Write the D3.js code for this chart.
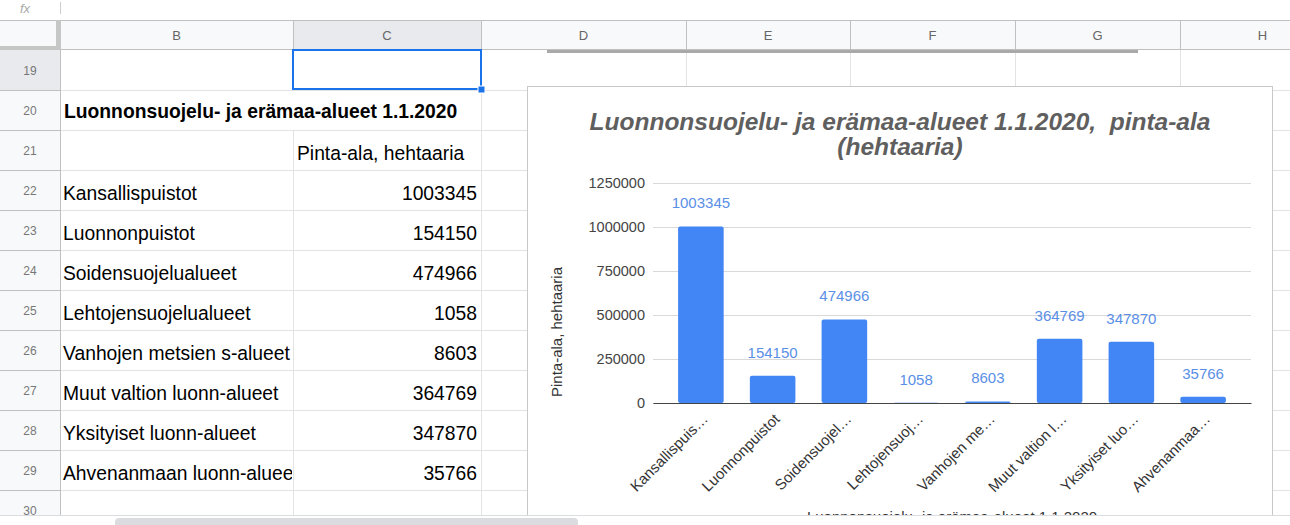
<!DOCTYPE html>
<html>
<head>
<meta charset="utf-8">
<script src="https://cdn.jsdelivr.net/npm/d3@7"></script>
<style>
  body { margin: 0; background: #fff; overflow: hidden; }
  svg text { font-family: Arial, "Liberation Sans", sans-serif; }
</style>
</head>
<body>
<svg id="sheet" width="1290" height="525"></svg>
<script>
// table / chart data
var categories = ["Kansallispuistot", "Luonnonpuistot", "Soidensuojelualueet", "Lehtojensuojelualueet",
  "Vanhojen metsien s-alueet", "Muut valtion luonn-alueet", "Yksityiset luonn-alueet", "Ahvenanmaan luonn-alueet"];
var values = [1003345, 154150, 474966, 1058, 8603, 364769, 347870, 35766];
var axisLabels = ["Kansallispuis…", "Luonnonpuistot", "Soidensuojel…", "Lehtojensuoj…",
  "Vanhojen me…", "Muut valtion l…", "Yksityiset luo…", "Ahvenanmaa…"];
var yTicks = [0, 250000, 500000, 750000, 1000000, 1250000];
var columnLetters = ["B", "C", "D", "E", "F", "G", "H"];
var rowNumbers = [19, 20, 21, 22, 23, 24, 25, 26, 27, 28, 29, 30];
var tableTitle = "Luonnonsuojelu- ja erämaa-alueet 1.1.2020";
var valueHeader = "Pinta-ala, hehtaaria";
var chartTitle = ["Luonnonsuojelu- ja erämaa-alueet 1.1.2020,  pinta-ala", "(hehtaaria)"];

// sheet layout
var colEdges = [60, 293, 481, 686, 850, 1015, 1180, 1345];
var headTop = 20, headBottom = 50, rowH = 40, sheetBottom = 515;
var rowTop = function(i) { return headBottom + i * rowH; };

var svg = d3.select("#sheet");

svg.append("defs").append("clipPath").attr("id", "sheetClip")
  .append("rect").attr("x", 0).attr("y", headTop).attr("width", 1290).attr("height", sheetBottom - headTop);
svg.select("defs").append("clipPath").attr("id", "colB")
  .append("rect").attr("x", 60).attr("y", 0).attr("width", 232).attr("height", 525);

// formula bar remnant
svg.append("text").attr("x", 20).attr("y", 13).attr("font-size", "13px").attr("font-style", "italic")
  .attr("fill", "#aaa").text("fx");
svg.append("line").attr("x1", 60.5).attr("x2", 60.5).attr("y1", 2).attr("y2", 14).attr("stroke", "#ccc");

var grid = svg.append("g").attr("clip-path", "url(#sheetClip)");

// header backgrounds
grid.append("rect").attr("x", 0).attr("y", headTop).attr("width", 1290).attr("height", headBottom - headTop).attr("fill", "#f8f9fa");
grid.append("rect").attr("x", colEdges[1]).attr("y", headTop).attr("width", colEdges[2] - colEdges[1])
  .attr("height", headBottom - headTop).attr("fill", "#e8eaed");
grid.append("rect").attr("x", 0).attr("y", headBottom).attr("width", 60).attr("height", sheetBottom - headBottom).attr("fill", "#f8f9fa");
grid.append("rect").attr("x", 0).attr("y", rowTop(0)).attr("width", 60).attr("height", rowH).attr("fill", "#e8eaed");

// cell gridlines
rowNumbers.forEach(function(r, i) {
  grid.append("line").attr("x1", 60).attr("x2", 1290).attr("y1", rowTop(i + 1) + 0.5).attr("y2", rowTop(i + 1) + 0.5)
    .attr("stroke", "#e2e3e3");
  grid.append("line").attr("x1", 0).attr("x2", 60).attr("y1", rowTop(i + 1) + 0.5).attr("y2", rowTop(i + 1) + 0.5)
    .attr("stroke", "#c0c0c0");
});
colEdges.slice(1).forEach(function(x, j) {
  // row 20 title overflows across B/C border
  if (j === 0) {
    grid.append("line").attr("x1", x + 0.5).attr("x2", x + 0.5).attr("y1", headBottom).attr("y2", rowTop(1)).attr("stroke", "#e2e3e3");
    grid.append("line").attr("x1", x + 0.5).attr("x2", x + 0.5).attr("y1", rowTop(2)).attr("y2", sheetBottom).attr("stroke", "#e2e3e3");
  } else {
    grid.append("line").attr("x1", x + 0.5).attr("x2", x + 0.5).attr("y1", headBottom).attr("y2", sheetBottom).attr("stroke", "#e2e3e3");
  }
  grid.append("line").attr("x1", x + 0.5).attr("x2", x + 0.5).attr("y1", headTop).attr("y2", headBottom).attr("stroke", "#c0c0c0");
});
grid.append("line").attr("x1", 0).attr("x2", 1290).attr("y1", headTop + 0.5).attr("y2", headTop + 0.5).attr("stroke", "#c0c0c0");
grid.append("line").attr("x1", 0).attr("x2", 1290).attr("y1", headBottom - 0.5).attr("y2", headBottom - 0.5).attr("stroke", "#c0c0c0");
grid.append("line").attr("x1", 60.5).attr("x2", 60.5).attr("y1", headTop).attr("y2", sheetBottom).attr("stroke", "#c0c0c0");
// freeze bars in the corner
grid.append("rect").attr("x", 56).attr("y", headTop).attr("width", 5).attr("height", headBottom - headTop).attr("fill", "#c4c7c5");
grid.append("rect").attr("x", 0).attr("y", headBottom - 4).attr("width", 60).attr("height", 4).attr("fill", "#c4c7c5");

// header labels
columnLetters.forEach(function(c, j) {
  grid.append("text").attr("x", (colEdges[j] + colEdges[j + 1]) / 2).attr("y", 40)
    .attr("text-anchor", "middle").attr("font-size", "13px").attr("fill", "#666").text(c);
});
rowNumbers.forEach(function(r, i) {
  grid.append("text").attr("x", 30).attr("y", rowTop(i) + 25)
    .attr("text-anchor", "middle").attr("font-size", "12px").attr("fill", "#777").text(r);
});

// cell contents
var fs = "19.3px";
grid.append("text").attr("x", 64).attr("y", rowTop(1) + 28).attr("font-size", fs).attr("font-weight", "bold")
  .attr("fill", "#000").text(tableTitle);
grid.append("text").attr("x", 297).attr("y", rowTop(2) + 30).attr("font-size", fs).attr("fill", "#000").text(valueHeader);
categories.forEach(function(c, i) {
  grid.append("text").attr("x", 63).attr("y", rowTop(i + 3) + 30).attr("font-size", fs).attr("fill", "#000")
    .attr("clip-path", "url(#colB)").text(c);
  grid.append("text").attr("x", 477).attr("y", rowTop(i + 3) + 30).attr("font-size", fs).attr("fill", "#000")
    .attr("text-anchor", "end").text(values[i]);
});

// selected cell C19
grid.append("rect").attr("x", colEdges[1]).attr("y", rowTop(0)).attr("width", colEdges[2] - colEdges[1])
  .attr("height", rowH - 1).attr("fill", "none").attr("stroke", "#1a73e8").attr("stroke-width", 2);
grid.append("rect").attr("x", colEdges[2] - 3).attr("y", rowTop(1) - 4).attr("width", 7).attr("height", 7)
  .attr("fill", "#1a73e8").attr("stroke", "#fff").attr("stroke-width", 1);

// bottom edge of the chart above
grid.append("rect").attr("x", 547).attr("y", 50).attr("width", 591).attr("height", 3).attr("fill", "#a9a9a9");

// ---- chart ----
var chart = grid.append("g");
chart.append("rect").attr("x", 527.5).attr("y", 86.5).attr("width", 745).attr("height", 480)
  .attr("fill", "#fff").attr("stroke", "#c8c8c8");

chart.selectAll(".title").data(chartTitle).enter().append("text")
  .attr("x", 900).attr("y", function(d, i) { return 130 + i * 25; })
  .attr("text-anchor", "middle").attr("font-size", "24.5px").attr("font-weight", "bold").attr("font-style", "italic")
  .attr("fill", "#5f5f5f").style("white-space", "pre").text(function(d) { return d; });

var y = d3.scaleLinear().domain([0, 1250000]).range([403, 183]);
var x = d3.scaleBand().domain(categories).range([653, 1251]).paddingInner(0.365).paddingOuter(0.35);

var yAxis = chart.append("g").attr("transform", "translate(653,0)")
  .call(d3.axisLeft(y).tickValues(yTicks).tickSize(-598).tickPadding(8).tickFormat(d3.format("d")));
yAxis.select(".domain").remove();
yAxis.selectAll("line").attr("stroke", "#d9d9d9");
yAxis.selectAll("text").attr("font-size", "14.5px").attr("fill", "#444");

chart.selectAll(".bar").data(values).enter().append("rect")
  .attr("class", "bar")
  .attr("x", function(d, i) { return x(categories[i]); })
  .attr("y", function(d) { return y(d); })
  .attr("width", x.bandwidth())
  .attr("height", function(d) { return y(0) - y(d); })
  .attr("rx", 2)
  .attr("fill", "#4285f4");

chart.selectAll(".val").data(values).enter().append("text")
  .attr("x", function(d, i) { return x(categories[i]) + x.bandwidth() / 2; })
  .attr("y", function(d) { return y(d) - 18; })
  .attr("text-anchor", "middle").attr("font-size", "15px").attr("fill", "#5a8fe6")
  .text(function(d) { return d; });

var xAxis = chart.append("g").attr("transform", "translate(0,403)")
  .call(d3.axisBottom(x).tickSize(0).tickFormat(function(d, i) { return axisLabels[i]; }));
xAxis.select(".domain").attr("stroke", "#444").attr("stroke-width", 1.2);
xAxis.selectAll("text")
  .attr("y", 0).attr("dy", 0)
  .attr("transform", "translate(8,17) rotate(-45)")
  .attr("text-anchor", "end").attr("font-size", "15px").attr("fill", "#333");

chart.append("text").attr("transform", "translate(562,332) rotate(-90)")
  .attr("text-anchor", "middle").attr("font-size", "15px").attr("fill", "#333").text("Pinta-ala, hehtaaria");
chart.append("text").attr("x", 952).attr("y", 522)
  .attr("text-anchor", "middle").attr("font-size", "15px").attr("fill", "#333").text(tableTitle);

// bottom scrollbar strip
svg.append("line").attr("x1", 0).attr("x2", 1290).attr("y1", sheetBottom + 0.5).attr("y2", sheetBottom + 0.5).attr("stroke", "#dadce0");
svg.append("rect").attr("x", 115).attr("y", 518).attr("width", 463).attr("height", 10).attr("rx", 4).attr("fill", "#dadce0");
</script>
</body>
</html>
